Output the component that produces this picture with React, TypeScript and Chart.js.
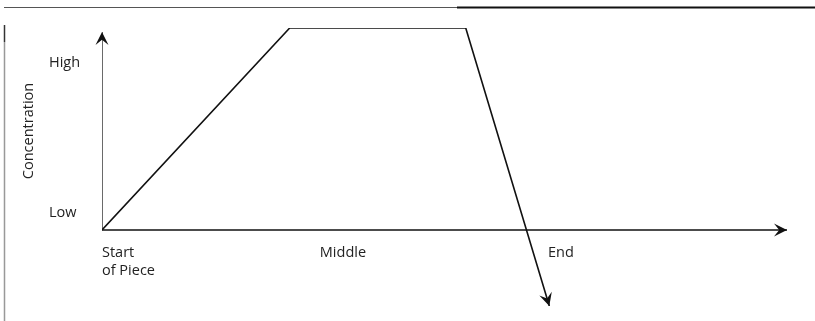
import React, { useEffect, useRef } from "react";
import { Chart, registerables } from "chart.js";

Chart.register(...registerables);

// Data (x: progress through piece 0..100, y: concentration 0..100)
const curveX = [0, 27.4, 53.1, 65.3];
const curveY = [0, 100, 100, -37.6];
const xAxisX = [0, 100];
const xAxisY = [0, 0];
const yAxisX = [0, 0];
const yAxisY = [0, 98];

const xTickValues = [0, 31.8, 65.1];
const xTickLabels = [["Start", "of Piece"], ["Middle"], ["End"]];
const yTickValues = [8.4, 82.7];
const yTickLabels = ["Low", "High"];
const yTitle = "Concentration";

const FONT = "14.5px 'Open Sans', Lato, sans-serif";

const toPts = (xs: number[], ys: number[]) => xs.map((x, i) => ({ x, y: ys[i] }));

const decorPlugin = {
  id: "decor",
  beforeDraw(chart: any) {
    const ctx = chart.ctx;
    ctx.save();
    // frame lines (scan border)
    ctx.lineWidth = 1;
    ctx.strokeStyle = "#555";
    ctx.beginPath();
    ctx.moveTo(4, 7.5);
    ctx.lineTo(457, 7.5);
    ctx.stroke();
    ctx.lineWidth = 2;
    ctx.strokeStyle = "#111";
    ctx.beginPath();
    ctx.moveTo(457, 7.5);
    ctx.lineTo(815, 7.5);
    ctx.stroke();
    ctx.lineWidth = 1.5;
    ctx.strokeStyle = "#333";
    ctx.beginPath();
    ctx.moveTo(4.5, 25);
    ctx.lineTo(4.5, 42);
    ctx.stroke();
    ctx.strokeStyle = "#999";
    ctx.beginPath();
    ctx.moveTo(4.5, 42);
    ctx.lineTo(4.5, 321);
    ctx.stroke();
    ctx.restore();
  },
  afterDatasetsDraw(chart: any) {
    const ctx = chart.ctx;
    const xs = chart.scales.x;
    const ys = chart.scales.y;
    ctx.save();
    // arrowheads at last point of each dataset
    chart.data.datasets.forEach((ds: any, i: number) => {
      const meta = chart.getDatasetMeta(i);
      const n = meta.data.length;
      const p1 = meta.data[n - 2];
      const p2 = meta.data[n - 1];
      const ang = Math.atan2(p2.y - p1.y, p2.x - p1.x);
      const L = 13;
      const W = 6.5;
      ctx.save();
      ctx.translate(p2.x, p2.y);
      ctx.rotate(ang);
      ctx.fillStyle = "#111";
      ctx.beginPath();
      ctx.moveTo(0, 0);
      ctx.lineTo(-L, -W);
      ctx.lineTo(-L * 0.6, 0);
      ctx.lineTo(-L, W);
      ctx.closePath();
      ctx.fill();
      ctx.restore();
    });
    ctx.fillStyle = "#222";
    ctx.font = FONT;
    ctx.textBaseline = "middle";
    ctx.textAlign = "left";
    const baseY = ys.getPixelForValue(0);
    xTickValues.forEach((v, i) => {
      const px = xs.getPixelForValue(v);
      xTickLabels[i].forEach((line, j) => {
        ctx.fillText(line, px, baseY + 23 + j * 18);
      });
    });
    yTickValues.forEach((v, i) => {
      ctx.fillText(yTickLabels[i], 49, ys.getPixelForValue(v));
    });
    ctx.save();
    ctx.translate(29, 131);
    ctx.rotate(-Math.PI / 2);
    ctx.textAlign = "center";
    ctx.fillText(yTitle, 0, 0);
    ctx.restore();
    ctx.restore();
  },
};

export default function App() {
  const ref = useRef<HTMLCanvasElement>(null);
  useEffect(() => {
    document.body.style.margin = "0";
    const chart = new Chart(ref.current!, {
      type: "scatter",
      data: {
        datasets: [
          {
            data: toPts(curveX, curveY),
            showLine: true,
            borderColor: "#111",
            borderWidth: 1.6,
            pointRadius: 0,
          },
          {
            data: toPts(xAxisX, xAxisY),
            showLine: true,
            borderColor: "#111",
            borderWidth: 1.6,
            pointRadius: 0,
          },
          {
            data: toPts(yAxisX, yAxisY),
            showLine: true,
            borderColor: "#444",
            borderWidth: 1.6,
            pointRadius: 0,
          },
        ],
      },
      options: {
        animation: false,
        responsive: false,
        layout: { padding: { left: 102, right: 28, top: 28, bottom: 15 } },
        plugins: { legend: { display: false }, tooltip: { enabled: false } },
        scales: {
          x: { type: "linear", min: 0, max: 100, display: false },
          y: { type: "linear", min: -37.6, max: 100, display: false },
        },
      },
      plugins: [decorPlugin],
    });
    return () => chart.destroy();
  }, []);
  return (
    <div style={{ width: 815, height: 321, background: "#fff" }}>
      <canvas ref={ref} width={815} height={321} style={{ display: "block" }} />
    </div>
  );
}
